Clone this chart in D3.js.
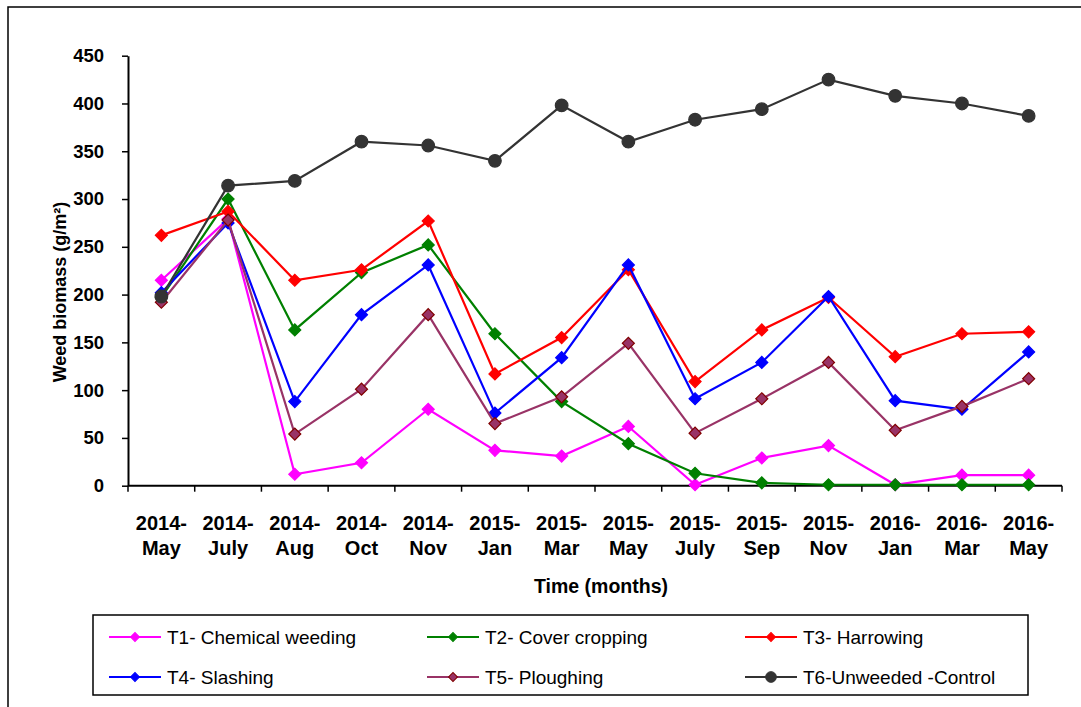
<!DOCTYPE html>
<html>
<head>
<meta charset="utf-8">
<script src="https://cdn.jsdelivr.net/npm/d3@7"></script>
<style>
  html, body { margin: 0; padding: 0; background: #fff; }
  svg { display: block; font-family: "Liberation Sans", Arial, sans-serif; }
</style>
</head>
<body>
<svg id="chart" width="1081" height="707"></svg>
<script>
const categories = [
  ["2014-", "May"], ["2014-", "July"], ["2014-", "Aug"], ["2014-", "Oct"], ["2014-", "Nov"],
  ["2015-", "Jan"], ["2015-", "Mar"], ["2015-", "May"], ["2015-", "July"], ["2015-", "Sep"],
  ["2015-", "Nov"], ["2016-", "Jan"], ["2016-", "Mar"], ["2016-", "May"]
];
const yTicks = [0, 50, 100, 150, 200, 250, 300, 350, 400, 450];

const t1 = [215, 279, 12, 24, 80, 37, 31, 62, 1, 29, 42, 1, 11, 11];
const t2 = [197, 300, 163, 223, 252, 159, 88, 44, 13, 3, 1, 1, 1, 1];
const t3 = [262, 287, 215, 226, 277, 117, 155, 226, 109, 163, 197, 135, 159, 161];
const t4 = [202, 275, 88, 179, 231, 76, 134, 231, 91, 129, 198, 89, 80, 140];
const t5 = [192, 278, 54, 101, 179, 65, 93, 149, 55, 91, 129, 58, 83, 112];
const t6 = [198, 314, 319, 360, 356, 340, 398, 360, 383, 394, 425, 408, 400, 387];

const seriesNames = ["T1- Chemical weeding", "T2- Cover cropping", "T3- Harrowing",
                     "T4- Slashing", "T5- Ploughing", "T6-Unweeded -Control"];
const seriesValues = [t1, t2, t3, t4, t5, t6];
const lineColors = ["#FF00FF", "#008000", "#FF0000", "#0000FF", "#993366", "#333333"];
const markerFill = ["#FF00FF", "#008000", "#FF0000", "#0000FF", "#993366", "#333333"];
const markerStroke = ["#FF00FF", "#008000", "#FF0000", "#0000FF", "#800000", "#333333"];
const markerShape = ["diamond", "diamond", "diamond", "diamond", "diamond", "circle"];

const svg = d3.select("#chart");

// outer frame
svg.append("path")
  .attr("d", "M8,707 L8,7 L1081,7")
  .attr("fill", "none").attr("stroke", "#000").attr("stroke-width", 1.5);

const plotLeft = 128, plotRight = 1062, plotTop = 55.7, plotBottom = 485.7;
const x = d3.scaleBand().domain(categories.map((d, i) => i)).range([plotLeft, plotRight]).padding(0);
const y = d3.scaleLinear().domain([0, 450]).range([plotBottom, plotTop]);
const cx = i => x(i) + x.bandwidth() / 2;

// Y axis
const yAxis = d3.axisLeft(y).tickValues(yTicks).tickSize(6).tickPadding(18).tickSizeOuter(0);
const gy = svg.append("g").attr("transform", `translate(${plotLeft},0)`).call(yAxis);
gy.select(".domain").attr("stroke", "#000").attr("stroke-width", 2);
gy.selectAll(".tick line").attr("stroke", "#000").attr("stroke-width", 1.5);
gy.selectAll(".tick text").attr("font-size", 18.5).attr("font-weight", "bold").attr("fill", "#000")
  .attr("font-family", "Liberation Sans, Arial, sans-serif");

// X axis: ticks at band boundaries
svg.append("line").attr("x1", plotLeft).attr("x2", plotRight).attr("y1", plotBottom).attr("y2", plotBottom)
  .attr("stroke", "#000").attr("stroke-width", 2);
const boundaries = categories.map((d, i) => x(i)).concat([plotRight]);
svg.append("g").selectAll("line").data(boundaries).join("line")
  .attr("x1", d => d).attr("x2", d => d).attr("y1", plotBottom).attr("y2", plotBottom + 6)
  .attr("stroke", "#000").attr("stroke-width", 1.5);

const xl = svg.append("g").selectAll("text").data(categories).join("text")
  .attr("text-anchor", "middle").attr("font-size", 20).attr("font-weight", "bold").attr("fill", "#000");
xl.append("tspan").attr("x", (d, i) => cx(i)).attr("y", 530).text(d => d[0]);
xl.append("tspan").attr("x", (d, i) => cx(i)).attr("y", 555).text(d => d[1]);

// axis titles
svg.append("text").attr("x", 601).attr("y", 593).attr("text-anchor", "middle")
  .attr("font-size", 19.5).attr("font-weight", "bold").text("Time (months)");
svg.append("text").attr("transform", "translate(66,292) rotate(-90)").attr("text-anchor", "middle")
  .attr("font-size", 18).attr("font-weight", "bold")
  .text("Weed biomass (g/m²)");

// lines & markers
const line = d3.line().x((d, i) => cx(i)).y(d => y(d));
const diamond = d3.symbol(d3.symbolSquare, 72);
const circle = d3.symbol(d3.symbolCircle, 125);

seriesValues.forEach((vals, s) => {
  const g = svg.append("g");
  g.append("path").datum(vals).attr("d", line)
    .attr("fill", "none").attr("stroke", lineColors[s]).attr("stroke-width", 2.2);
  g.selectAll("path.m").data(vals).join("path").attr("class", "m")
    .attr("d", markerShape[s] === "circle" ? circle() : diamond())
    .attr("transform", (d, i) => `translate(${cx(i)},${y(d)})` + (markerShape[s] === "circle" ? "" : " rotate(45)"))
    .attr("fill", markerFill[s]).attr("stroke", markerStroke[s]).attr("stroke-width", 1.2);
});

// legend
svg.append("rect").attr("x", 93).attr("y", 615).attr("width", 935).attr("height", 80)
  .attr("fill", "#fff").attr("stroke", "#000").attr("stroke-width", 1.5);
const colX = [109, 427, 745], rowY = [637, 677];
const legDiamond = d3.symbol(d3.symbolSquare, 40);
const legCircle = d3.symbol(d3.symbolCircle, 90);
seriesNames.forEach((name, s) => {
  const lx = colX[s % 3], ly = rowY[Math.floor(s / 3)];
  const g = svg.append("g");
  g.append("line").attr("x1", lx).attr("x2", lx + 52).attr("y1", ly).attr("y2", ly)
    .attr("stroke", lineColors[s]).attr("stroke-width", 2);
  g.append("path").attr("d", markerShape[s] === "circle" ? legCircle() : legDiamond())
    .attr("transform", `translate(${lx + 26},${ly})` + (markerShape[s] === "circle" ? "" : " rotate(45)"))
    .attr("fill", markerFill[s]).attr("stroke", markerStroke[s]).attr("stroke-width", 1);
  g.append("text").attr("x", lx + 58).attr("y", ly + 7).attr("font-size", 19).attr("fill", "#000").text(name);
});
</script>
</body>
</html>
